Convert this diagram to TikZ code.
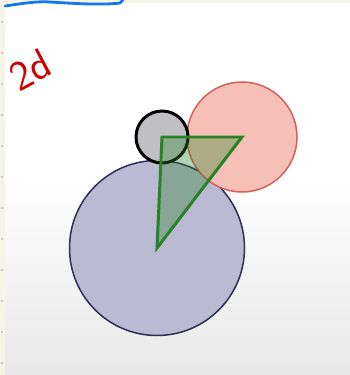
\documentclass[tikz,border=0pt]{standalone}
\usepackage{tikz}
\usetikzlibrary{shapes.geometric}

\definecolor{paper}{RGB}{246,243,232}
\definecolor{ballblue}{RGB}{186,186,210}
\definecolor{balledge}{RGB}{45,45,85}
\definecolor{ballred}{RGB}{246,192,184}
\definecolor{rededge}{RGB}{215,95,85}
\definecolor{ballgray}{RGB}{192,192,196}
\definecolor{trigreen}{RGB}{40,130,40}
\definecolor{inkred}{RGB}{205,0,0}
\definecolor{inkblue}{RGB}{20,120,235}

\begin{document}
\begin{tikzpicture}[x=0.02cm, y=-0.02cm,
        ball/.style={draw, circle, inner sep=0pt, line width=0.85pt},
        tri/.style={draw=trigreen, line width=1.7pt, fill=trigreen, fill opacity=0.35, line join=miter}
    ]
    % page
    \useasboundingbox (0,0) rectangle (350,375);
    \fill[white] (0,0) rectangle (350,375);
    \shade[top color=white, bottom color=black!9] (5,170) rectangle (350,375);
    \fill[paper] (0,0) rectangle (5,375);
    \fill[paper] (0,0) rectangle (350,3);
    \foreach \y in {22,53,84,115,146,177,208,239,270,301,332,363}
        \fill[black!25] (2,\y) circle (1.2);

    % handwriting
    \draw[inkblue, line width=1.6pt, line cap=round] (5,6) .. controls (25,3) and (40,1) .. (50,2) .. controls (80,4) and (105,5) .. (120,3) -- (123,0);
    \node[inkred, rotate=28, inner sep=0pt, font=\sffamily\fontsize{24}{24}\selectfont] (note) at (30,70) {2d};

    % balls
    \node[ball, fill=ballblue, draw=balledge, minimum size=175*0.02cm] (big) at (157,248) {};
    \node[ball, fill=ballred, draw=rededge, minimum size=110*0.02cm] (red) at (242,137) {};
    \node[ball, fill=ballgray, draw=black, line width=1.7pt, minimum size=52*0.02cm] (small) at (162,137) {};

    % centres
    \draw[tri] (small.center) -- (red.center) -- (big.center) -- cycle;
\end{tikzpicture}
\end{document}
